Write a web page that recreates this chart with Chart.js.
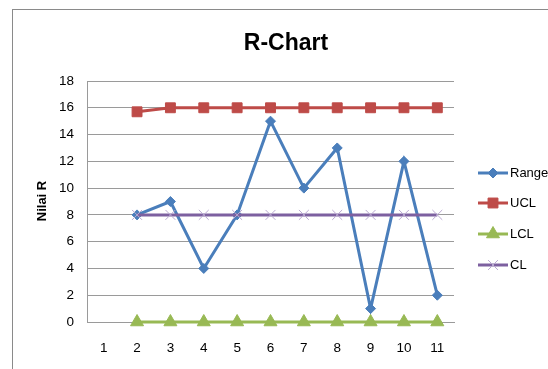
<!DOCTYPE html>
<html>
<head>
<meta charset="utf-8">
<script src="https://cdn.jsdelivr.net/npm/chart.js@4.4.0/dist/chart.umd.min.js"></script>
<style>
  html, body { margin: 0; padding: 0; background: #fff; overflow: hidden; }
  #wrap { position: relative; width: 548px; height: 369px; }
  #frame { position: absolute; left: 12px; top: 9px; width: 600px; height: 400px;
           border: 1.5px solid #8a8a8a; box-sizing: border-box; }
  canvas { position: absolute; left: 0; top: 0; }
</style>
</head>
<body>
<div id="wrap">
  <div id="frame"></div>
  <canvas id="chart" width="548" height="369"></canvas>
</div>
<script>
// data
const samples = ['1', '2', '3', '4', '5', '6', '7', '8', '9', '10', '11']
const rangeVals = [null, 8, 9, 4, 8, 15, 10, 13, 1, 12, 2]
const uclVals = [null, 15.7, 16, 16, 16, 16, 16, 16, 16, 16, 16]
const lclVals = [null, 0, 0, 0, 0, 0, 0, 0, 0, 0, 0]
const clVals = [null, 8, 8, 8, 8, 8, 8, 8, 8, 8, 8]
const yTicks = [0, 2, 4, 6, 8, 10, 12, 14, 16, 18]

const FONT = '"Liberation Sans", Arial, sans-serif'
const GRID = '#9a9a9a'

// title, y axis title and the legend on the right
const extras = {
  id: 'extras',
  afterDraw(chart) {
    const ctx = chart.ctx
    ctx.save()
    ctx.fillStyle = '#000'
    ctx.textAlign = 'center'
    ctx.textBaseline = 'middle'
    ctx.font = 'bold 23px ' + FONT
    ctx.fillText('R-Chart', 286, 44)

    ctx.save()
    ctx.translate(42, 201)
    ctx.rotate(-Math.PI / 2)
    ctx.font = 'bold 13px ' + FONT
    ctx.fillText('Nilai R', 0, 0)
    ctx.restore()

    const rows = [173, 203, 234, 265]
    chart.data.datasets.forEach(function(ds, i) {
      const y = rows[i]
      ctx.strokeStyle = ds.borderColor
      ctx.lineWidth = 3
      ctx.beginPath()
      ctx.moveTo(478, y)
      ctx.lineTo(508, y)
      ctx.stroke()
      ctx.fillStyle = ds.pointBackgroundColor
      ctx.strokeStyle = ds.pointBorderColor
      ctx.lineWidth = ds.pointBorderWidth
      Chart.helpers.drawPoint(ctx, {
        pointStyle: ds.pointStyle,
        radius: ds.pointRadius,
        borderWidth: ds.pointBorderWidth
      }, 493, y)
      ctx.fillStyle = '#000'
      ctx.textAlign = 'left'
      ctx.font = '13px ' + FONT
      ctx.fillText(ds.label, 510, y)
    })
    ctx.restore()
  }
}

new Chart(document.getElementById('chart'), {
  type: 'line',
  data: {
    labels: samples,
    datasets: [
      { label: 'Range', data: rangeVals, borderColor: '#4a7ebb', borderWidth: 3,
        pointStyle: 'rectRot', pointRadius: 5, pointBackgroundColor: '#4a7ebb',
        pointBorderColor: '#4a7ebb', pointBorderWidth: 1, order: 4, clip: false },
      { label: 'UCL', data: uclVals, borderColor: '#be4b48', borderWidth: 3,
        pointStyle: 'rect', pointRadius: 7, pointBackgroundColor: '#be4b48',
        pointBorderColor: '#be4b48', pointBorderWidth: 1, order: 3, clip: false },
      { label: 'LCL', data: lclVals, borderColor: '#98b954', borderWidth: 3,
        pointStyle: 'triangle', pointRadius: 7.5, pointBackgroundColor: '#98b954',
        pointBorderColor: '#98b954', pointBorderWidth: 1, order: 2, clip: false },
      { label: 'CL', data: clVals, borderColor: '#7d60a0', borderWidth: 3,
        pointStyle: 'crossRot', pointRadius: 7, pointBackgroundColor: '#b9a8d0',
        pointBorderColor: '#b9a8d0', pointBorderWidth: 1, order: 1, clip: false }
    ]
  },
  options: {
    responsive: false,
    animation: false,
    layout: { padding: { left: 0, top: 81, right: 94, bottom: 0 } },
    plugins: { legend: { display: false }, title: { display: false }, tooltip: { enabled: false } },
    scales: {
      x: {
        offset: true,
        grid: { display: false, drawTicks: false },
        border: { display: true, color: GRID, width: 1 },
        ticks: { color: '#000', font: { size: 13.5, family: FONT }, padding: 18, maxRotation: 0 },
        afterFit: function(s) { s.height = 47 }
      },
      y: {
        min: 0, max: 18,
        afterBuildTicks: function(s) { s.ticks = yTicks.map(function(v) { return { value: v } }) },
        grid: { color: GRID, lineWidth: 1, drawTicks: false },
        border: { display: true, color: GRID, width: 1 },
        ticks: { color: '#000', font: { size: 13.5, family: FONT }, padding: 13 },
        afterFit: function(s) { s.width = 87 }
      }
    }
  },
  plugins: [extras]
})
</script>
</body>
</html>
